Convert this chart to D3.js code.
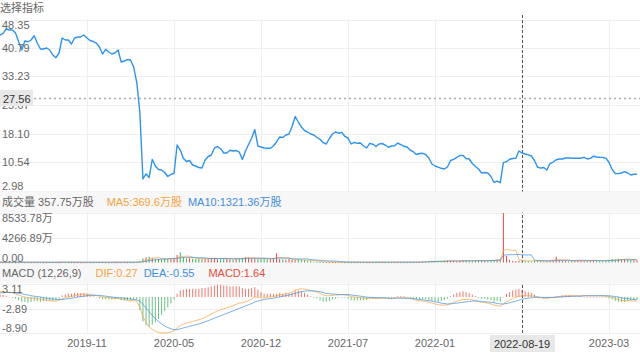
<!DOCTYPE html>
<html>
<head>
<meta charset="utf-8">
<script src="https://cdn.jsdelivr.net/npm/d3@7/dist/d3.min.js"></script>
<style>
  body { margin: 0; background: #fff; }
  text { font-family: "Liberation Sans", "Noto Sans CJK SC", sans-serif; font-size: 11px; }
</style>
</head>
<body>
<svg id="chart" width="640" height="354"></svg>
<script>
// weekly trading dates (whole-week market closures are skipped)
const firstWeek = "2019-04-19";
const closedWeeks = ["2019-10-04", "2020-01-31", "2020-10-02", "2020-10-09", "2021-02-12", "2022-02-04", "2022-10-07", "2023-01-27"];
const pointCount = 206;

const close = [
  44.23,44.69,45.83,45.56,45.56,44.76,42.45,40.25,42.64,42.45,
  42.91,44.05,42.11,40.52,40.52,40.79,40.25,38.93,38.21,39.46,
  43.44,42.91,42.91,41.85,43.44,43.70,43.70,44.23,43.44,42.77,
  42.51,42.11,41.05,39.19,40.44,39.72,39.19,39.46,40.25,37.07,
  37.34,37.73,37.60,35.74,31.76,23.81,6.03,7.36,6.43,11.21,
  9.48,8.55,8.42,7.76,6.70,7.23,7.54,15.05,13.72,11.52,
  10.67,10.94,9.74,9.48,9.08,8.95,11.07,12.00,12.40,14.26,
  14.65,14.07,12.93,12.93,13.65,13.46,13.59,13.19,11.21,13.46,
  15.18,16.91,19.16,14.79,14.52,14.26,14.18,14.18,14.79,15.85,
  17.17,17.04,17.70,17.97,19.96,22.61,21.15,19.83,18.90,18.50,
  17.97,17.70,17.04,16.56,15.66,15.32,16.78,17.97,18.50,18.18,
  18.42,17.31,16.91,15.32,15.77,15.50,15.58,14.79,14.26,15.50,
  15.24,14.65,15.32,15.45,15.05,14.44,14.79,14.84,15.58,15.18,
  14.71,14.52,13.72,13.27,12.53,12.80,12.85,12.53,11.60,10.01,
  9.48,9.16,8.87,8.68,9.21,10.94,11.26,11.79,12.27,12.27,
  11.47,11.34,10.14,9.35,8.68,7.62,7.76,7.62,6.70,5.11,
  5.45,5.05,10.36,10.62,11.26,11.47,11.52,13.46,12.93,12.66,
  12.45,12.13,10.94,9.21,8.90,9.08,8.42,10.14,10.54,11.15,
  11.34,11.34,11.60,11.60,11.52,11.52,11.52,11.55,11.79,11.34,
  11.52,12.08,11.87,11.79,11.76,11.55,10.41,8.55,7.49,7.46,
  7.62,7.97,7.62,7.09,7.28,7.28
];

// volume, in 万股
const volume = [
  60,45,50,40,55,35,70,80,50,45,40,55,60,45,40,35,50,65,55,45,
  90,60,50,45,55,40,35,45,50,40,45,55,60,50,45,40,55,50,45,60,
  55,45,50,60,90,180,700,900,1000,800,650,600,500,700,550,600,750,1300,1760,900,
  700,750,650,600,700,600,650,700,800,750,600,650,700,600,550,500,650,700,800,900,
  850,700,750,650,600,700,650,600,700,1590,650,550,500,600,450,400,500,450,400,350,
  300,150,120,100,90,80,70,80,60,70,80,60,50,60,70,50,60,70,60,50,
  60,70,80,60,50,60,70,60,80,70,60,50,60,70,80,90,150,200,250,300,
  250,200,250,300,350,300,250,200,300,350,400,300,250,300,350,400,300,350,400,450,
  500,600,8533.78,1120,430,300,250,350,357.75,300,250,200,300,350,250,200,250,300,350,1000,
  400,300,250,200,250,300,350,300,250,300,350,400,350,300,250,350,400,600,500,650,
  600,550,500,450,400,357
];
const volMa5 = [
  55,52,50,48,46,45,50,56,57,54,52,49,50,51,49,47,45,49,51,52,
  61,63,64,58,56,50,46,44,45,43,43,47,50,50,50,50,51,52,50,50,
  53,51,51,52,60,86,210,380,560,710,810,790,710,650,600,620,620,770,980,1060,
  1080,1070,950,740,680,660,660,660,690,720,700,710,700,660,620,600,600,640,680,750,
  800,810,800,730,710,690,650,640,650,850,840,820,800,820,550,520,500,460,420,400,
  360,320,260,200,130,100,90,80,76,70,72,68,64,64,64,62,58,62,62,62,
  60,62,68,68,64,64,64,64,70,68,68,66,64,62,66,70,90,120,160,210,
  230,240,250,260,270,280,270,260,260,280,300,320,320,320,320,340,340,340,350,370,
  400,440,2050,2250,2150,2100,2110,490,369.6,300,280,280,290,280,250,240,240,270,300,450,
  460,460,450,440,260,240,260,280,280,290,300,320,330,330,320,320,330,360,420,450,
  510,570,580,560,540,490
];
const volMa10 = [
  52,51,50,49,48,48,49,50,51,51,51,50,50,51,50,50,49,50,51,51,
  56,57,57,55,54,55,54,51,51,48,46,46,48,47,47,47,48,50,50,50,
  52,52,51,51,55,68,130,220,310,390,460,500,550,600,630,710,700,710,810,840,
  850,850,860,860,830,820,800,690,710,700,680,680,690,690,660,650,660,650,650,700,
  720,700,720,740,740,740,720,700,680,750,770,760,740,730,640,620,600,620,600,630,
  520,460,410,380,340,290,280,250,230,190,140,100,85,75,70,68,66,64,62,61,
  61,62,63,65,64,63,63,64,66,67,65,65,65,65,66,67,75,90,105,140,
  150,170,190,210,240,255,255,255,260,270,280,290,295,295,300,310,320,330,335,345,
  360,380,1230,1330,1340,1350,1370,1390,1321.36,1300,1310,1300,380,360,360,330,290,300,360,360,
  370,370,370,360,350,340,370,380,370,360,350,350,340,320,310,320,340,360,380,420,
  450,460,470,460,470,480
];

const dif = [
  1.3,1.3,1.2,1.1,1.0,0.8,0.5,0.2,0.0,-0.2,-0.3,-0.3,-0.4,-0.6,-0.7,-0.8,-0.9,-1.0,-1.0,-0.8,
  -0.4,-0.2,0.0,0.1,0.3,0.5,0.6,0.7,0.7,0.6,0.5,0.4,0.2,0.0,-0.1,-0.2,-0.3,-0.4,-0.4,-0.6,
  -0.7,-0.8,-0.9,-0.9,-1.0,-2.6,-4.8,-6.2,-7.3,-7.9,-8.4,-8.7,-8.8,-8.8,-8.8,-8.6,-8.3,-7.6,-7.0,-6.7,
  -6.4,-6.2,-6.0,-5.8,-5.6,-5.3,-5.0,-4.6,-4.2,-3.8,-3.4,-3.1,-2.9,-2.6,-2.4,-2.1,-1.8,-1.5,-1.4,-1.2,
  -0.9,-0.5,0.0,-0.1,-0.2,-0.2,-0.1,0.0,0.1,0.3,0.5,0.6,0.8,0.9,1.2,1.7,1.9,2.0,1.9,1.8,
  1.6,1.4,1.2,0.9,0.5,0.3,0.3,0.4,0.5,0.5,0.6,0.5,0.4,0.1,0.0,-0.1,-0.2,-0.3,-0.4,-0.3,
  -0.3,-0.4,-0.3,-0.3,-0.3,-0.4,-0.4,-0.3,-0.2,-0.2,-0.2,-0.3,-0.4,-0.6,-0.8,-0.9,-1.0,-1.1,-1.3,-1.5,
  -1.7,-1.9,-2.0,-2.0,-1.9,-1.6,-1.3,-1.0,-0.8,-0.6,-0.6,-0.6,-0.7,-0.9,-1.1,-1.3,-1.4,-1.5,-1.7,-2.0,
  -2.1,-2.3,-1.7,-1.2,-0.8,-0.4,-0.1,0.2,0.27,0.3,0.3,0.3,0.2,0.0,-0.1,-0.3,-0.3,-0.2,-0.1,0.0,
  0.1,0.2,0.3,0.3,0.3,0.3,0.3,0.3,0.3,0.3,0.3,0.3,0.3,0.3,0.3,0.2,0.1,-0.1,-0.4,-0.6,
  -0.8,-0.9,-0.9,-0.9,-1.0,-1.0
];
const dea = [
  1.0,1.05,1.1,1.1,1.1,1.0,0.9,0.8,0.6,0.5,0.3,0.2,0.1,0.0,-0.2,-0.3,-0.4,-0.5,-0.6,-0.6,
  -0.6,-0.5,-0.4,-0.3,-0.2,0.0,0.1,0.2,0.3,0.4,0.4,0.4,0.4,0.3,0.2,0.1,0.0,-0.1,-0.2,-0.2,
  -0.3,-0.4,-0.5,-0.6,-0.7,-1.0,-1.8,-2.7,-3.6,-4.5,-5.3,-6.0,-6.6,-7.1,-7.5,-7.8,-8.0,-8.0,-7.8,-7.6,
  -7.4,-7.2,-7.0,-6.8,-6.6,-6.4,-6.1,-5.8,-5.5,-5.2,-4.9,-4.6,-4.3,-4.0,-3.7,-3.4,-3.1,-2.8,-2.5,-2.2,
  -1.9,-1.6,-1.2,-1.0,-0.8,-0.6,-0.5,-0.4,-0.3,-0.1,0.0,0.2,0.3,0.5,0.7,0.9,1.1,1.3,1.4,1.5,
  1.5,1.5,1.4,1.3,1.1,0.9,0.8,0.7,0.7,0.6,0.6,0.6,0.6,0.5,0.4,0.3,0.2,0.1,0.0,-0.1,
  -0.1,-0.2,-0.2,-0.2,-0.2,-0.3,-0.3,-0.3,-0.3,-0.3,-0.3,-0.3,-0.3,-0.4,-0.5,-0.6,-0.7,-0.8,-0.9,-1.0,
  -1.2,-1.3,-1.5,-1.6,-1.7,-1.7,-1.6,-1.5,-1.4,-1.3,-1.2,-1.1,-1.0,-1.0,-1.0,-1.1,-1.2,-1.2,-1.3,-1.4,
  -1.6,-1.7,-1.7,-1.6,-1.4,-1.2,-1.0,-0.8,-0.55,-0.4,-0.3,-0.2,-0.1,-0.1,-0.1,-0.1,-0.1,-0.1,-0.1,-0.1,
  0.0,0.0,0.1,0.1,0.2,0.2,0.2,0.2,0.3,0.3,0.3,0.3,0.3,0.3,0.3,0.3,0.3,0.2,0.1,0.0,
  -0.2,-0.3,-0.4,-0.5,-0.6,-0.7
];
const macdBar = [
  0.6,0.5,0.2,0.0,-0.2,-0.4,-0.8,-1.2,-1.2,-1.4,-1.2,-1.0,-1.0,-1.2,-1.0,-1.0,-1.0,-1.0,-0.8,-0.4,
  0.4,0.6,0.8,0.8,1.0,1.0,1.0,1.0,0.8,0.4,0.2,0.0,-0.4,-0.6,-0.6,-0.6,-0.6,-0.6,-0.4,-0.8,
  -0.8,-0.8,-0.8,-0.6,-0.6,-3.2,-6.0,-7.0,-7.4,-6.8,-6.2,-5.4,-4.4,-3.4,-2.6,-1.6,-0.6,0.8,1.6,1.8,
  2.0,2.0,2.0,2.0,2.0,2.2,2.2,2.4,2.6,2.8,3.0,3.0,2.8,2.8,2.6,2.6,2.6,2.6,2.2,2.0,
  2.0,2.2,2.4,1.8,1.2,0.8,0.8,0.8,0.8,0.8,1.0,0.8,1.0,0.8,1.0,1.6,1.6,1.4,1.0,0.6,
  0.2,-0.2,-0.4,-0.8,-1.2,-1.2,-1.0,-0.6,-0.4,-0.2,0.0,-0.2,-0.4,-0.8,-0.8,-0.8,-0.8,-0.8,-0.8,-0.4,
  -0.4,-0.4,-0.2,-0.2,-0.2,-0.2,-0.2,0.0,0.2,0.2,0.2,0.0,-0.2,-0.4,-0.6,-0.6,-0.6,-0.6,-0.8,-1.0,
  -1.0,-1.2,-1.0,-0.8,-0.4,0.2,0.6,1.0,1.2,1.4,1.2,1.0,0.6,0.2,-0.2,-0.4,-0.4,-0.6,-0.8,-1.2,
  -1.0,-1.2,0.0,0.8,1.2,1.6,1.8,2.0,1.64,1.4,1.2,1.0,0.6,0.2,0.0,-0.4,-0.4,-0.2,0.0,0.2,
  0.2,0.4,0.4,0.4,0.2,0.2,0.2,0.2,0.0,0.0,0.0,0.0,0.0,0.0,0.0,-0.2,-0.4,-0.6,-1.0,-1.2,
  -1.2,-1.2,-1.0,-0.8,-0.8,-0.6
];

const priceTicks = [48.35, 40.79, 33.23, 25.67, 18.10, 10.54, 2.98];
const volTicks = [8533.78, 4266.89, 0];
const volTickLabels = ["8533.78万", "4266.89万", "0.00"];
const macdTicks = [3.11, -2.89, -8.90];
const labelEvery = 28;

// crosshair state
const hoverIndex = 168;
const hoverPrice = 27.56;

// build the date list
const closedSet = new Set(closedWeeks);
const dates = [];
for (let d = new Date(firstWeek + "T00:00:00Z"); dates.length < pointCount; d.setUTCDate(d.getUTCDate() + 7)) {
  const s = d.toISOString().slice(0, 10);
  if (!closedSet.has(s)) dates.push(s);
}

const width = 640;
const panel = {
  price: {top: 19.5, bottom: 190.5},
  vol: {band: 191.5, top: 213, bottom: 262.5},
  macd: {band: 262.5, top: 284.3, bottom: 333.3}
};

const colors = {
  grid: "#efefef",
  label: "#666",
  price: "#2d93f0",
  orange: "#f8a23a",
  blue: "#3d8ee0",
  red: "#ec4a3c",
  green: "#3aad5c",
  band: "#f7f7f7"
};

const svg = d3.select("#chart");

const x = d3.scalePoint().domain(d3.range(pointCount)).range([0, 637]);
const yPrice = d3.scaleLinear().domain([2.98, 48.35]).range([panel.price.bottom, panel.price.top]);
const yVol = d3.scaleLinear().domain([0, 8533.78]).range([panel.vol.bottom, panel.vol.top]);
const yMacd = d3.scaleLinear().domain([-8.90, 3.11]).range([panel.macd.bottom, panel.macd.top]);

const tickIdx = d3.range(labelEvery, pointCount, labelEvery);

// horizontal grid
function hGrid(scale, ticks) {
  svg.append("g").selectAll("line").data(ticks).join("line")
    .attr("x1", 0).attr("x2", width)
    .attr("y1", d => Math.round(scale(d)) + 0.5).attr("y2", d => Math.round(scale(d)) + 0.5)
    .attr("stroke", colors.grid);
}
hGrid(yPrice, priceTicks);
hGrid(yVol, volTicks);
hGrid(yMacd, macdTicks);

// vertical grid
svg.append("g").selectAll("line").data(tickIdx).join("line")
  .attr("x1", d => Math.round(x(d)) + 0.5).attr("x2", d => Math.round(x(d)) + 0.5)
  .attr("y1", panel.price.top).attr("y2", panel.macd.bottom)
  .attr("stroke", colors.grid);

// vertical crosshair
svg.append("line")
  .attr("x1", Math.round(x(hoverIndex)) + 0.5).attr("x2", Math.round(x(hoverIndex)) + 0.5)
  .attr("y1", 15).attr("y2", panel.macd.bottom + 1)
  .attr("stroke", "#555").attr("stroke-dasharray", "3,2");

// header bands
svg.append("rect").attr("x", 0).attr("y", panel.vol.band).attr("width", width)
  .attr("height", panel.vol.top - panel.vol.band - 0.5).attr("fill", colors.band);
svg.append("rect").attr("x", 0).attr("y", panel.macd.band).attr("width", width)
  .attr("height", panel.macd.top - panel.macd.band - 0.8).attr("fill", colors.band);

// price line
svg.append("path")
  .datum(close)
  .attr("fill", "none")
  .attr("stroke", colors.price)
  .attr("stroke-width", 1.4)
  .attr("stroke-linejoin", "round")
  .attr("d", d3.line().x((d, i) => x(i)).y(d => yPrice(d)));

// volume bars
svg.append("g").selectAll("rect").data(volume).join("rect")
  .attr("x", (d, i) => x(i) - 0.5)
  .attr("width", 1)
  .attr("y", d => yVol(d))
  .attr("height", d => Math.max(1, yVol(0) - yVol(d)))
  .attr("fill", (d, i) => (i > 0 && close[i] < close[i - 1]) ? colors.green : colors.red);

const volLine = d3.line().x((d, i) => x(i)).y(d => yVol(d));
svg.append("path").datum(volMa5).attr("fill", "none").attr("stroke", colors.orange)
  .attr("stroke-opacity", 0.7).attr("d", volLine);
svg.append("path").datum(volMa10).attr("fill", "none").attr("stroke", colors.blue)
  .attr("stroke-opacity", 0.7).attr("d", volLine);

// macd bars
svg.append("g").selectAll("rect").data(macdBar).join("rect")
  .attr("x", (d, i) => x(i) - 0.5)
  .attr("width", 1)
  .attr("y", d => Math.min(yMacd(0), yMacd(d)))
  .attr("height", d => Math.max(0.5, Math.abs(yMacd(d) - yMacd(0))))
  .attr("fill", d => d >= 0 ? colors.red : colors.green)
  .attr("fill-opacity", 0.75);

const macdLine = d3.line().x((d, i) => x(i)).y(d => yMacd(d));
svg.append("path").datum(dif).attr("fill", "none").attr("stroke", colors.orange)
  .attr("stroke-opacity", 0.7).attr("d", macdLine);
svg.append("path").datum(dea).attr("fill", "none").attr("stroke", colors.blue)
  .attr("stroke-opacity", 0.7).attr("d", macdLine);

// y labels inside the plot
function yLabels(scale, ticks, texts) {
  svg.append("g").selectAll("text").data(ticks).join("text")
    .attr("x", 2)
    .attr("y", (d, i) => scale(d) + (i === 0 ? 5 : i === ticks.length - 1 ? -5 : 0))
    .attr("dominant-baseline", "central")
    .attr("fill", colors.label)
    .text((d, i) => texts ? texts[i] : d.toFixed(2));
}
yLabels(yPrice, priceTicks);
yLabels(yVol, volTicks, volTickLabels);
yLabels(yMacd, macdTicks);

// x labels (the one under the hover tag is covered by it)
svg.append("g").selectAll("text").data(tickIdx.filter(d => d !== hoverIndex)).join("text")
  .attr("x", d => x(d))
  .attr("y", 343)
  .attr("text-anchor", "middle")
  .attr("dominant-baseline", "central")
  .attr("fill", colors.label)
  .text(d => dates[d].slice(0, 7));

// header texts
function headerRow(y, parts) {
  const t = svg.append("text").attr("x", 2).attr("y", y).attr("dominant-baseline", "central");
  parts.forEach(p => t.append("tspan").attr("dx", p.gap || 0).attr("fill", p.color).text(p.text));
}
svg.append("text").attr("x", 0).attr("y", 8).attr("dominant-baseline", "central")
  .attr("fill", colors.label).text("选择指标");

headerRow(201.5, [
  {text: "成交量 " + volume[hoverIndex].toFixed(2) + "万股", color: colors.label},
  {text: "MA5:" + volMa5[hoverIndex] + "万股", color: colors.orange, gap: 13},
  {text: "MA10:" + volMa10[hoverIndex] + "万股", color: colors.blue, gap: 6}
]);
headerRow(272.5, [
  {text: "MACD (12,26,9)", color: colors.label},
  {text: "DIF:" + dif[hoverIndex].toFixed(2), color: colors.orange, gap: 14},
  {text: "DEA:" + dea[hoverIndex].toFixed(2), color: colors.blue, gap: 6},
  {text: "MACD:" + macdBar[hoverIndex].toFixed(2), color: colors.red, gap: 14}
]);

// horizontal crosshair with value tag
const hy = Math.round(yPrice(hoverPrice)) + 0.5;
svg.append("line").attr("x1", 34).attr("x2", width).attr("y1", hy).attr("y2", hy)
  .attr("stroke", "#aaa").attr("stroke-width", 1.6).attr("stroke-dasharray", "2,3");
svg.append("rect").attr("x", 0).attr("y", hy - 8.5).attr("width", 33).attr("height", 16).attr("fill", "#e8e8e8");
svg.append("text").attr("x", 3).attr("y", hy).attr("dominant-baseline", "central")
  .attr("fill", "#333").text(hoverPrice.toFixed(2));

// date tag on the axis
const hx = x(hoverIndex);
svg.append("rect").attr("x", hx - 32).attr("y", 335).attr("width", 65).attr("height", 17).attr("fill", "#e8e8e8");
svg.append("text").attr("x", hx).attr("y", 343.5).attr("text-anchor", "middle").attr("dominant-baseline", "central")
  .attr("fill", "#333").text(dates[hoverIndex]);
</script>
</body>
</html>
